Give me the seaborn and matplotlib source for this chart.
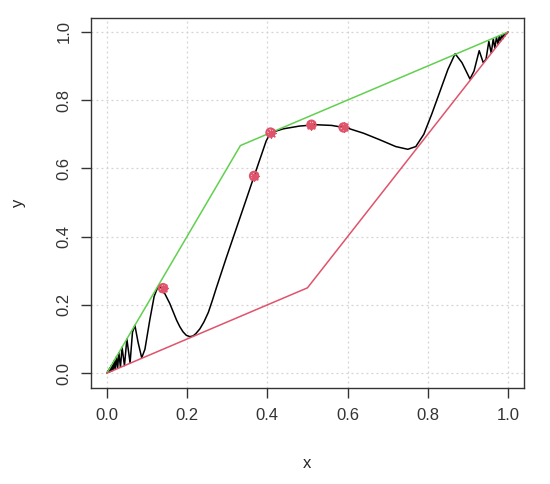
import seaborn as sns
import matplotlib.pyplot as plt
import numpy as np

# bounds
upper_x = [0.0, 0.333, 1.0]
upper_y = [0.0, 0.667, 1.0]
lower_x = [0.0, 0.5, 1.0]
lower_y = [0.0, 0.25, 1.0]

# black curve, hand-read points
curve_x = [0.0, 0.004, 0.005, 0.006, 0.007, 0.008, 0.009, 0.010, 0.011, 0.012,
           0.013, 0.015, 0.016, 0.019, 0.021, 0.024, 0.027, 0.030, 0.034, 0.038,
           0.044, 0.050, 0.058, 0.064, 0.070, 0.078, 0.087, 0.095, 0.107, 0.118,
           0.127, 0.135, 0.145, 0.157, 0.166, 0.174, 0.182, 0.190, 0.198, 0.207,
           0.215, 0.222, 0.232, 0.242, 0.253, 0.263, 0.273, 0.298, 0.323, 0.348,
           0.367, 0.386, 0.397, 0.405, 0.415, 0.440, 0.480,
           0.520, 0.560, 0.600, 0.640, 0.680, 0.720, 0.750, 0.770, 0.790, 0.810,
           0.830, 0.850, 0.868, 0.885, 0.905, 0.915, 0.928, 0.938, 0.945, 0.952,
           0.958, 0.963, 0.967, 0.971, 0.975, 0.978, 0.981, 0.984, 0.987, 0.990,
           0.992, 0.994, 0.996, 1.0]
curve_y = [0.0, 0.008, 0.003, 0.012, 0.004, 0.016, 0.005, 0.020, 0.006, 0.024,
           0.007, 0.030, 0.008, 0.038, 0.011, 0.048, 0.014, 0.060, 0.017, 0.076,
           0.022, 0.100, 0.030, 0.120, 0.140, 0.090, 0.045, 0.070, 0.155, 0.225,
           0.252, 0.250, 0.232, 0.204, 0.178, 0.155, 0.136, 0.121, 0.111, 0.107,
           0.109, 0.116, 0.130, 0.150, 0.178, 0.213, 0.250, 0.339, 0.425, 0.511,
           0.577, 0.642, 0.680, 0.698, 0.707, 0.716, 0.724,
           0.728, 0.726, 0.718, 0.703, 0.684, 0.664, 0.656, 0.664, 0.700, 0.760,
           0.825, 0.890, 0.936, 0.910, 0.862, 0.885, 0.945, 0.910, 0.920, 0.972,
           0.938, 0.980, 0.952, 0.984, 0.964, 0.988, 0.972, 0.991, 0.980, 0.994,
           0.988, 0.996, 0.994, 1.0]

# highlighted points
pts_x = [0.14, 0.367, 0.408, 0.51, 0.59]
pts_y = [0.249, 0.578, 0.705, 0.728, 0.72]

sns.set_style("white")
plt.rcParams['font.family'] = ['Liberation Sans', 'DejaVu Sans']

fig = plt.figure(figsize=(5.5, 4.84), dpi=100)
ax = fig.add_axes([0.165, 0.198, 0.788, 0.765])

sns.lineplot(x=curve_x, y=curve_y, ax=ax, color="black", lw=1.1,
             sort=False, estimator=None)
sns.lineplot(x=upper_x, y=upper_y, ax=ax, color="#61D04F", lw=1.1,
             sort=False, estimator=None)
sns.lineplot(x=lower_x, y=lower_y, ax=ax, color="#DF536B", lw=1.1,
             sort=False, estimator=None)
ax.scatter(pts_x, pts_y, s=36, facecolors="none", edgecolors="#DF536B",
           linewidths=1.5, zorder=5)
ax.scatter(pts_x, pts_y, s=45, marker=(8, 2, 0), color="#DF536B",
           linewidths=1.0, zorder=5)

ax.set_xlim(-0.04, 1.04)
ax.set_ylim(-0.044, 1.041)
ticks = [0.0, 0.2, 0.4, 0.6, 0.8, 1.0]
ax.set_xticks(ticks)
ax.set_yticks(ticks)
ax.set_xticklabels([f"{t:.1f}" for t in ticks])
ax.set_yticklabels([f"{t:.1f}" for t in ticks], rotation=90, va="center")
ax.grid(True, color="lightgray", linestyle=(0, (1.5, 2.5)), lw=0.9)
ax.tick_params(direction="out", length=7, width=1, colors="#333333",
               labelsize=12, pad=7, left=True, bottom=True)
for s in ax.spines.values():
    s.set_color("#333333")
    s.set_linewidth(1)
ax.set_xlabel("x", fontsize=12, labelpad=24)
ax.set_ylabel("y", fontsize=12, labelpad=22)

plt.savefig("out.png", dpi=100)
